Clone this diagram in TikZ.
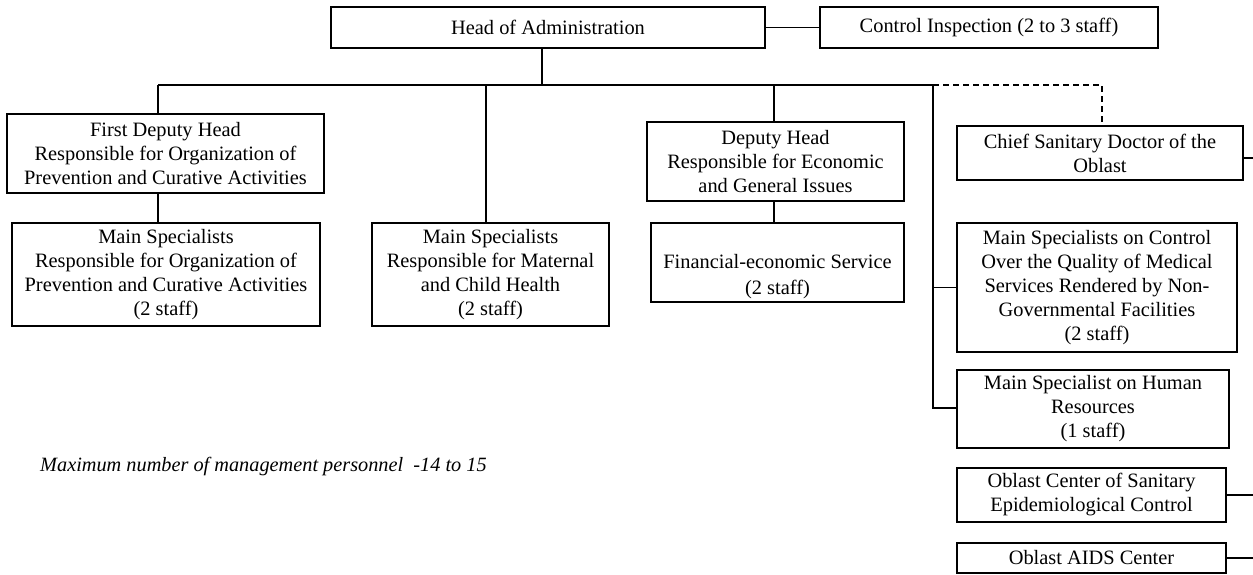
\documentclass[tikz,border=0pt]{standalone}
\usepackage{fontspec}
\setmainfont{Liberation Serif}
\begin{document}
\begin{tikzpicture}[x=1pt,y=-1pt,
  box/.style={draw, line width=1.3pt, align=center, inner sep=0pt, font=\fontsize{20.4}{24}\selectfont},
  txt/.style={align=center, inner sep=0pt, font=\fontsize{20.4}{26}\selectfont},
  conn/.style={line width=1.3pt},
  dconn/.style={line width=1.3pt, dash pattern=on 6pt off 4pt}]
\useasboundingbox (0,0) rectangle (1253,574);
% nodes
\node[box, minimum width=434pt, minimum height=41pt] (head) at (548,27.5) {Head of Administration};
\node[box, minimum width=338pt, minimum height=41pt] (ctrl) at (989,27.5) {Control Inspection (2 to 3 staff)};
\node[box, minimum width=317pt, minimum height=79pt] (fd) at (165.5,153.5) {First Deputy Head\\Responsible for Organization of\\Prevention and Curative Activities};
\node[box, minimum width=308pt, minimum height=103pt] (ms1) at (166,274.5) {Main Specialists\\Responsible for Organization of\\Prevention and Curative Activities\\(2 staff)};
\node[box, minimum width=237pt, minimum height=103pt] (ms2) at (490.5,274.5) {Main Specialists\\Responsible for Maternal\\and Child Health\\(2 staff)};
\node[box, minimum width=257pt, minimum height=79pt] (dh) at (775.5,161.5) {Deputy Head\\Responsible for Economic\\and General Issues};
\node[box, minimum width=253pt, minimum height=79pt] (fin) at (777.5,262.5) {};
\node[txt] (fintxt) at (777.5,277) {Financial-economic Service\\(2 staff)};
\node[box, minimum width=286pt, minimum height=54pt] (csd) at (1100,153) {Chief Sanitary Doctor of the\\Oblast};
\node[box, minimum width=280pt, minimum height=129pt] (qc) at (1097,287.5) {Main Specialists on Control\\Over the Quality of Medical\\Services Rendered by Non-\\Governmental Facilities\\(2 staff)};
\node[box, minimum width=272pt, minimum height=78pt] (hr) at (1093,409) {Main Specialist on Human\\Resources\\(1 staff)};
\node[box, minimum width=269pt, minimum height=54pt] (oc) at (1091.5,495) {Oblast Center of Sanitary\\Epidemiological Control};
\node[box, minimum width=269pt, minimum height=30pt] (aids) at (1091.5,558) {Oblast AIDS Center};
\node[anchor=west, inner sep=0pt, font=\fontsize{20.3}{24}\selectfont\itshape] (note) at (40,467) {Maximum number of management personnel\ \ -14 to 15};
% coordinates
\coordinate (hb) at (542,85);
\coordinate (b1) at (158,85);
\coordinate (b2) at (486,85);
\coordinate (b3) at (774,85);
\coordinate (b4) at (933,85);
\coordinate (b5) at (1102,85);
\coordinate (v4) at (933,408);
\coordinate (e1) at (1253,158);
\coordinate (e2) at (1253,495);
\coordinate (e3) at (1253,558);
% connectors
\draw[conn] (head.east) -- (ctrl.west);
\draw[conn] (hb |- head.south) -- (hb);
\draw[conn] (b1) -- (b4);
\draw[conn] (b1) -- (b1 |- fd.north);
\draw[conn] (b1 |- fd.south) -- (b1 |- ms1.north);
\draw[conn] (b2) -- (b2 |- ms2.north);
\draw[conn] (b3) -- (b3 |- dh.north);
\draw[conn] (b3 |- dh.south) -- (b3 |- fin.north);
\draw[conn] (b4) -- (v4) -- (hr.west |- v4);
\draw[conn] (b4 |- qc.west) -- (qc.west);
\draw[dconn] (b4) -- (b5) -- (b5 |- csd.north);
\draw[conn] (csd.east |- e1) -- (e1);
\draw[conn] (oc.east) -- (e2);
\draw[conn] (aids.east) -- (e3);
\end{tikzpicture}
\end{document}
